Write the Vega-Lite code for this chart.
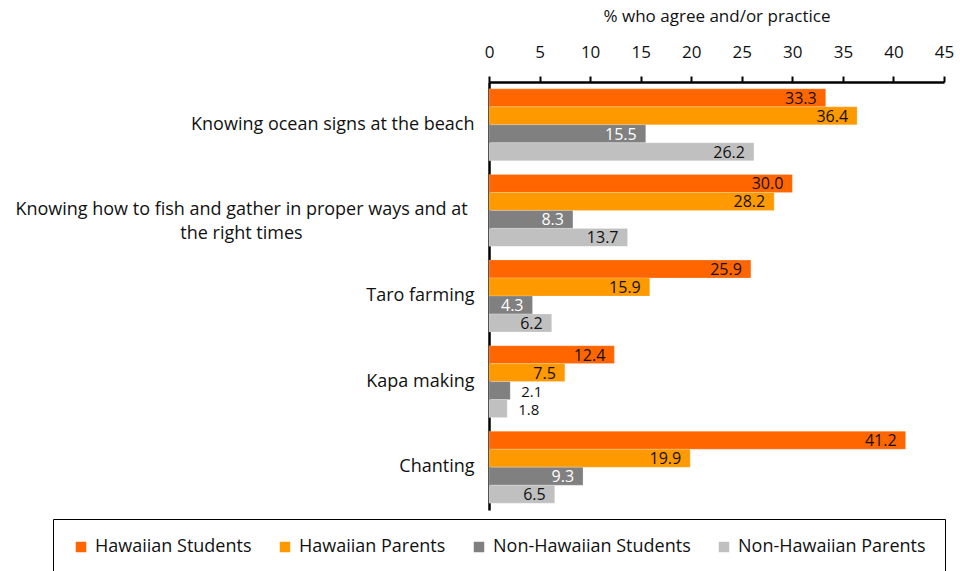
{
  "$schema": "https://vega.github.io/schema/vega-lite/v6.json",
  "autosize": "none",
  "width": 455,
  "height": 428,
  "padding": {"left": 489, "top": 82, "right": 20, "bottom": 61},
  "background": "white",
  "config": {
    "font": "Open Sans",
    "view": {"stroke": null}
  },
  "data": {
    "values": [
      {"activity": "Knowing ocean signs at the beach", "group": "Hawaiian Students", "value": 33.3},
      {"activity": "Knowing ocean signs at the beach", "group": "Hawaiian Parents", "value": 36.4},
      {"activity": "Knowing ocean signs at the beach", "group": "Non-Hawaiian Students", "value": 15.5},
      {"activity": "Knowing ocean signs at the beach", "group": "Non-Hawaiian Parents", "value": 26.2},
      {"activity": "Knowing how to fish and gather in proper ways and at the right times", "group": "Hawaiian Students", "value": 30.0},
      {"activity": "Knowing how to fish and gather in proper ways and at the right times", "group": "Hawaiian Parents", "value": 28.2},
      {"activity": "Knowing how to fish and gather in proper ways and at the right times", "group": "Non-Hawaiian Students", "value": 8.3},
      {"activity": "Knowing how to fish and gather in proper ways and at the right times", "group": "Non-Hawaiian Parents", "value": 13.7},
      {"activity": "Taro farming", "group": "Hawaiian Students", "value": 25.9},
      {"activity": "Taro farming", "group": "Hawaiian Parents", "value": 15.9},
      {"activity": "Taro farming", "group": "Non-Hawaiian Students", "value": 4.3},
      {"activity": "Taro farming", "group": "Non-Hawaiian Parents", "value": 6.2},
      {"activity": "Kapa making", "group": "Hawaiian Students", "value": 12.4},
      {"activity": "Kapa making", "group": "Hawaiian Parents", "value": 7.5},
      {"activity": "Kapa making", "group": "Non-Hawaiian Students", "value": 2.1},
      {"activity": "Kapa making", "group": "Non-Hawaiian Parents", "value": 1.8},
      {"activity": "Chanting", "group": "Hawaiian Students", "value": 41.2},
      {"activity": "Chanting", "group": "Hawaiian Parents", "value": 19.9},
      {"activity": "Chanting", "group": "Non-Hawaiian Students", "value": 9.3},
      {"activity": "Chanting", "group": "Non-Hawaiian Parents", "value": 6.5}
    ]
  },
  "encoding": {
    "y": {
      "field": "activity",
      "type": "nominal",
      "sort": null,
      "scale": {"paddingInner": 0.16, "paddingOuter": 0.08},
      "axis": {
        "title": null,
        "ticks": false,
        "domainColor": "black",
        "domainWidth": 2.5,
        "labelFontSize": 18,
        "labelColor": "#111",
        "labelAlign": {"condition": {"test": "length(datum.value) > 40", "value": "center"}, "value": "right"},
        "labelPadding": {"condition": {"test": "length(datum.value) > 40", "value": 248}, "value": 15},
        "labelLimit": 500,
        "labelLineHeight": 24,
        "labelExpr": "datum.label == 'Knowing how to fish and gather in proper ways and at the right times' ? ['Knowing how to fish  and gather in proper ways and at', 'the right times'] : datum.label"
      }
    },
    "yOffset": {
      "field": "group",
      "type": "nominal",
      "sort": ["Hawaiian Students", "Hawaiian Parents", "Non-Hawaiian Students", "Non-Hawaiian Parents"],
      "scale": {"paddingInner": 0, "paddingOuter": 0}
    },
    "x": {
      "field": "value",
      "type": "quantitative",
      "scale": {"domain": [0, 45], "nice": false},
      "axis": {
        "orient": "top",
        "title": "% who agree and/or practice",
        "titleFontSize": 17,
        "titleFontWeight": "normal",
        "titleColor": "#111",
        "titlePadding": 18,
        "values": [0, 5, 10, 15, 20, 25, 30, 35, 40, 45],
        "grid": false,
        "domainColor": "black",
        "domainWidth": 2.5,
        "tickColor": "black",
        "tickWidth": 2,
        "tickSize": 6,
        "labelFontSize": 17,
        "labelColor": "#111",
        "labelPadding": 15,
        "labelFlush": false
      }
    }
  },
  "layer": [
    {
      "mark": {"type": "bar", "stroke": "white", "strokeOpacity": 0.4, "strokeWidth": 0.5},
      "encoding": {
        "color": {
          "field": "group",
          "type": "nominal",
          "sort": ["Hawaiian Students", "Hawaiian Parents", "Non-Hawaiian Students", "Non-Hawaiian Parents"],
          "scale": {
            "domain": ["Hawaiian Students", "Hawaiian Parents", "Non-Hawaiian Students", "Non-Hawaiian Parents"],
            "range": ["#FF6600", "#FF9900", "#808080", "#C0C0C0"]
          },
          "legend": {
            "title": null,
            "orient": "none",
            "direction": "horizontal",
            "columns": 4,
            "legendX": -436,
            "legendY": 437,
            "symbolType": "square",
            "symbolSize": 110,
            "symbolStrokeWidth": 0,
            "labelFontSize": 18,
            "labelColor": "#111",
            "labelOffset": 5,
            "labelLimit": 300,
            "columnPadding": 24,
            "padding": 19,
            "strokeColor": "black",
            "fillColor": "white",
            "encode": {"legend": {"update": {"strokeWidth": {"value": 2}}}}
          }
        }
      }
    },
    {
      "transform": [{"filter": "datum.value >= 4"}],
      "mark": {"type": "text", "align": "right", "baseline": "middle", "dx": -9, "dy": 1, "fontSize": 16},
      "encoding": {
        "text": {"field": "value", "type": "quantitative", "format": ".1f"},
        "color": {
          "condition": {"test": "datum.group == 'Non-Hawaiian Students'", "value": "white"},
          "value": "#111"
        }
      }
    },
    {
      "transform": [{"filter": "datum.value < 4"}],
      "mark": {"type": "text", "align": "left", "baseline": "middle", "dx": 11, "dy": 1, "fontSize": 15, "color": "#111"},
      "encoding": {
        "text": {"field": "value", "type": "quantitative", "format": ".1f"}
      }
    }
  ]
}
